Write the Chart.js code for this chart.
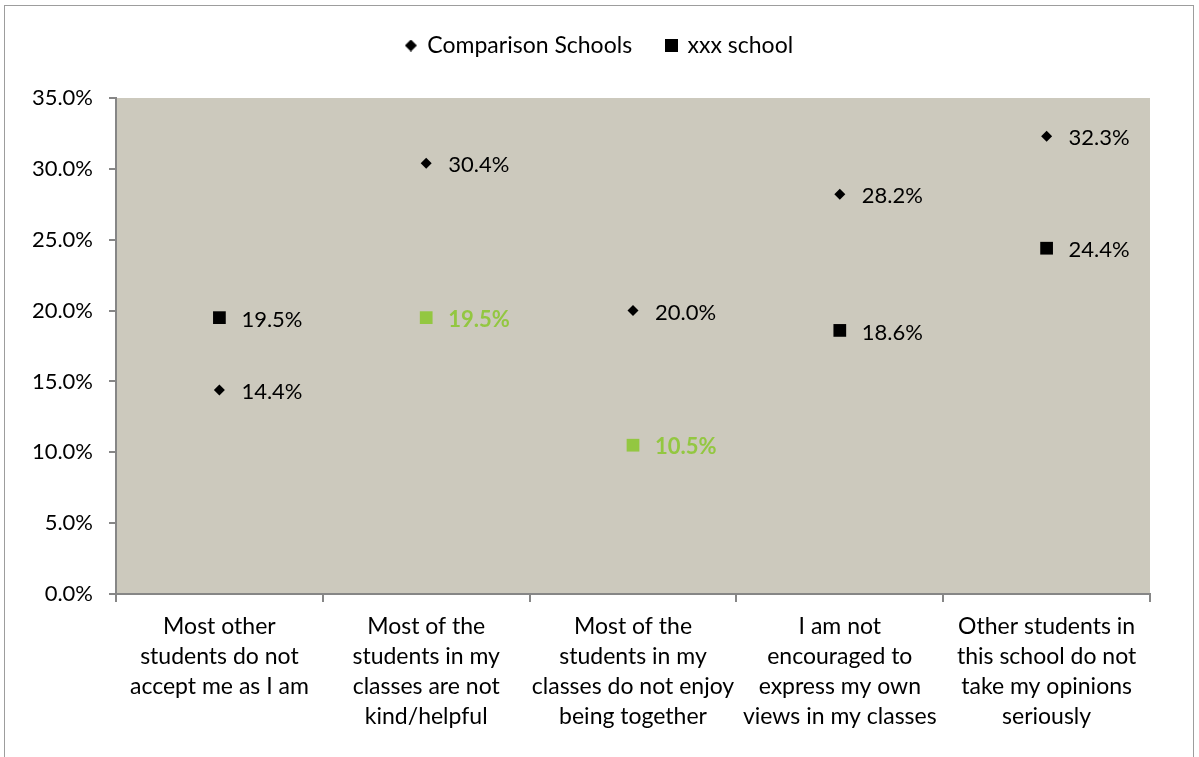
<!DOCTYPE html>
<html>
<head>
<meta charset="utf-8">
<script src="https://cdn.jsdelivr.net/npm/chart.js@4/dist/chart.umd.min.js"></script>
<style>
  body { margin: 0; background: #fff; }
  #marco { position: absolute; left: 4px; top: 5px; width: 1188px; height: 800px; border: 1px solid #9d9d9d; }
  #wrap { position: absolute; left: 0; top: 0; width: 1199px; height: 757px; }
</style>
</head>
<body>
<div id="marco"></div>
<div id="wrap"><canvas id="grafica" width="1199" height="757"></canvas></div>
<script>
const categorias = [
    ['Most other', 'students do not', 'accept me as I am'],
    ['Most of the', 'students in my', 'classes are not', 'kind/helpful'],
    ['Most of the', 'students in my', 'classes do not enjoy', 'being together'],
    ['I am not', 'encouraged to', 'express my own', 'views in my classes'],
    ['Other students in', 'this school do not', 'take my opinions', 'seriously']
];
const comparacion = [0.144, 0.304, 0.200, 0.282, 0.323];
const escuela = [0.195, 0.195, 0.105, 0.186, 0.244];
const nombres = ['Comparison Schools', 'xxx school'];

const verde = '#93c741';
const coloresEscuela = ['#000000', verde, verde, '#000000', '#000000'];
const fuente = 'Lato, "Open Sans", sans-serif';

// marcadores pequeños para la leyenda
function marcador(tipo, lado) {
    const c = document.createElement('canvas');
    c.width = lado; c.height = lado;
    const g = c.getContext('2d');
    g.fillStyle = '#000';
    if (tipo === 'rombo') {
        g.beginPath();
        g.moveTo(lado / 2, 0);
        g.lineTo(lado, lado / 2);
        g.lineTo(lado / 2, lado);
        g.lineTo(0, lado / 2);
        g.closePath();
        g.fill();
    } else {
        g.fillRect(0, 0, lado, lado);
    }
    return c;
}
const iconos = [marcador('rombo', 12), marcador('cuadro', 13)];

const fondoArea = {
    id: 'fondoArea',
    beforeDraw(chart) {
        const { ctx, chartArea: a } = chart;
        ctx.save();
        ctx.fillStyle = '#ccc9bd';
        ctx.fillRect(a.left, a.top, a.right - a.left, a.bottom - a.top);
        ctx.restore();
    }
};

const etiquetas = {
    id: 'etiquetas',
    afterDatasetsDraw(chart) {
        const ctx = chart.ctx;
        ctx.save();
        ctx.textAlign = 'left';
        ctx.textBaseline = 'middle';
        chart.data.datasets.forEach((ds, d) => {
            const meta = chart.getDatasetMeta(d);
            meta.data.forEach((p, i) => {
                const color = d === 1 ? coloresEscuela[i] : '#000000';
                const negrita = color !== '#000000';
                ctx.font = (negrita ? 'bold ' : '') + '22px ' + fuente;
                ctx.fillStyle = color;
                ctx.fillText((ds.data[i] * 100).toFixed(1) + '%', p.x + 22, p.y + 2);
            });
        });
        ctx.restore();
    }
};

const espacioLeyenda = {
    id: 'espacioLeyenda',
    beforeInit(chart) {
        const fitOriginal = chart.legend.fit;
        chart.legend.fit = function () {
            fitOriginal.bind(chart.legend)();
            this.height += 31;
        };
    }
};

new Chart(document.getElementById('grafica'), {
    type: 'line',
    data: {
        labels: categorias,
        datasets: [
            {
                label: nombres[0],
                data: comparacion,
                showLine: false,
                pointStyle: 'rectRot',
                pointRadius: 5.5,
                pointHoverRadius: 5.5,
                pointBorderWidth: 0,
                pointBackgroundColor: '#000000',
                backgroundColor: '#000000',
                borderColor: '#000000'
            },
            {
                label: nombres[1],
                data: escuela,
                showLine: false,
                pointStyle: 'rect',
                pointRadius: 9,
                pointHoverRadius: 9,
                pointBorderWidth: 0,
                pointBackgroundColor: coloresEscuela,
                backgroundColor: '#000000',
                borderColor: '#000000'
            }
        ]
    },
    options: {
        responsive: false,
        animation: false,
        layout: { padding: { left: 0, right: 0, top: 0, bottom: 0 } },
        plugins: {
            tooltip: { enabled: false },
            legend: {
                display: true,
                position: 'top',
                labels: {
                    usePointStyle: true,
                    boxWidth: 10,
                    boxHeight: 10,
                    padding: 34,
                    color: '#000000',
                    font: { family: fuente, size: 23 },
                    generateLabels(chart) {
                        const items = Chart.defaults.plugins.legend.labels.generateLabels(chart);
                        items.forEach((it, i) => { it.pointStyle = iconos[i]; });
                        return items;
                    }
                }
            }
        },
        scales: {
            x: {
                type: 'category',
                offset: true,
                grid: {
                    offset: true,
                    drawOnChartArea: false,
                    drawTicks: true,
                    tickLength: 8,
                    color: '#868686',
                    lineWidth: 2
                },
                border: { display: true, color: '#868686', width: 2 },
                ticks: {
                    autoSkip: false,
                    maxRotation: 0,
                    padding: 10,
                    color: '#000000',
                    font: { family: fuente, size: 23, lineHeight: 30 / 23 }
                },
                afterFit(s) { s.height = 163; }
            },
            y: {
                min: 0,
                max: 0.35,
                position: 'left',
                grid: {
                    drawOnChartArea: false,
                    drawTicks: true,
                    tickLength: 7,
                    color: '#868686',
                    lineWidth: 2
                },
                border: { display: true, color: '#868686', width: 2 },
                ticks: {
                    stepSize: 0.05,
                    padding: 16,
                    color: '#000000',
                    font: { family: fuente, size: 22 },
                    callback: v => (v * 100).toFixed(1) + '%'
                },
                afterFit(s) { s.width = 116; }
            },
            derecha: {
                type: 'linear',
                position: 'right',
                display: true,
                grid: { display: false, drawTicks: false },
                border: { display: false },
                ticks: { display: false },
                afterFit(s) { s.width = 49; }
            }
        }
    },
    plugins: [fondoArea, etiquetas, espacioLeyenda]
});
</script>
</body>
</html>
